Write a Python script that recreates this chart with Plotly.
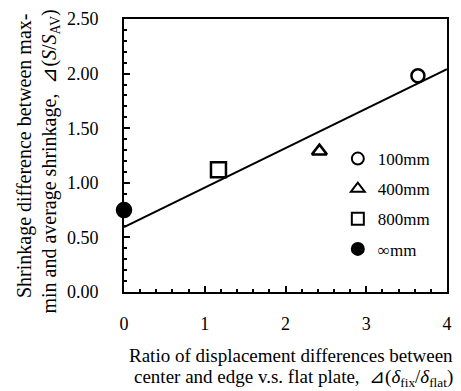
import plotly.graph_objects as go

series_names = ["100mm", "400mm", "800mm", "∞mm"]
x_values = [3.64, 2.42, 1.17, 0.0]
y_values = [1.98, 1.29, 1.12, 0.75]
symbols = ["circle-open", "triangle-up-open", "square-open", "circle"]
sizes = [13, 13, 15, 14]

fit_x = [0.0, 4.0]
fit_y = [0.595, 2.04]

x_ticks = [0, 1, 2, 3, 4]
y_ticks = [0.0, 0.5, 1.0, 1.5, 2.0, 2.5]
y_tick_labels = ["0.00", "0.50", "1.00", "1.50", "2.00", "2.50"]

FONT = "Liberation Serif"

fig = go.Figure()
fig.add_trace(go.Scatter(x=fit_x, y=fit_y, mode="lines",
                         line=dict(color="black", width=2), showlegend=False,
                         cliponaxis=False))
for i, name in enumerate(series_names):
    fig.add_trace(go.Scatter(
        x=[x_values[i]], y=[y_values[i]], mode="markers", name=name,
        legendgroup=name,
        marker=dict(symbol=symbols[i], size=sizes[i], color="black",
                    line=dict(color="black", width=2.5)),
        cliponaxis=False))

fig.update_layout(
    width=461, height=391,
    margin=dict(l=124, r=9, t=14, b=99),
    paper_bgcolor="white", plot_bgcolor="white",
    font=dict(family=FONT, size=18, color="black"),
    showlegend=True,
    legend=dict(x=0.662, y=0.553, xanchor="left", yanchor="top",
                bgcolor="rgba(0,0,0,0)", font=dict(size=17, family=FONT),
                tracegroupgap=5, itemwidth=30, itemsizing="constant"),
    xaxis=dict(range=[0, 4], tickvals=x_ticks, ticks="inside", ticklen=6,
               tickwidth=1.5, showline=True, linewidth=2, linecolor="black",
               mirror=True, showgrid=False, zeroline=False,
               tickfont=dict(size=18, family=FONT),
               minor=dict(dtick=0.2, ticks="inside", ticklen=3, tickwidth=1.5,
                          tickcolor="black", showgrid=False),
               tickcolor="black", ticklabelstandoff=14),
    yaxis=dict(range=[0, 2.5], tickvals=y_ticks, ticktext=y_tick_labels,
               ticks="inside", ticklen=6, tickwidth=1.5, showline=True,
               linewidth=2, linecolor="black", mirror=True, showgrid=False,
               zeroline=False, tickfont=dict(size=18, family=FONT),
               minor=dict(dtick=0.1, ticks="inside", ticklen=3, tickwidth=1.5,
                          tickcolor="black", showgrid=False),
               tickcolor="black", ticklabelstandoff=20),
)

# y-axis title, two lines
fig.add_annotation(
    text="Shrinkage difference between max-",
    xref="paper", yref="paper", x=(23 - 124) / 328, y=0.5,
    xanchor="center", yanchor="middle",
    textangle=-90, showarrow=False, font=dict(size=20, family=FONT))
fig.add_annotation(
    text="min and average shrinkage,  ⊿(<i>S</i>/<i>S</i><sub>AV</sub>)",
    xref="paper", yref="paper", x=(49 - 124) / 328, y=(292 - 159) / 278,
    xanchor="center", yanchor="middle",
    textangle=-90, showarrow=False, font=dict(size=20, family=FONT))

# x-axis title, two lines
fig.add_annotation(
    text="Ratio of displacement differences between",
    xref="paper", yref="paper", x=1.025, y=(292 - 357) / 278,
    xanchor="right", yanchor="middle",
    showarrow=False, font=dict(size=19, family=FONT))
fig.add_annotation(
    text="center and edge v.s. flat plate,  ⊿(<i>δ</i><sub>fix</sub>/<i>δ</i><sub>flat</sub>)",
    xref="paper", yref="paper", x=1.025, y=(292 - 380) / 278,
    xanchor="right", yanchor="middle",
    showarrow=False, font=dict(size=19, family=FONT))

fig.write_html("out.html")
